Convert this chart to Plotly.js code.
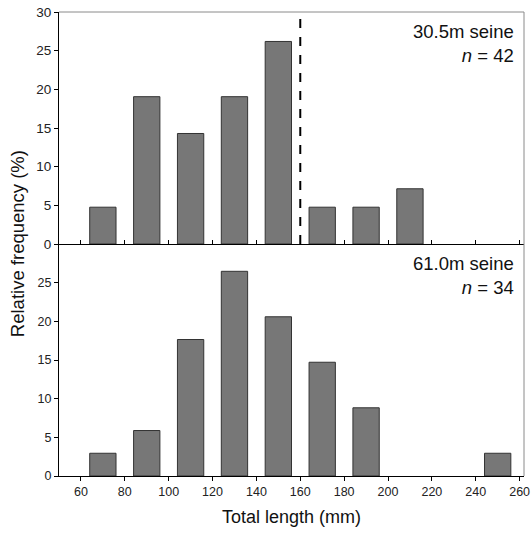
<!DOCTYPE html>
<html><head><meta charset="utf-8">
<script src="https://cdn.plot.ly/plotly-3.0.1.min.js"></script>
<style>html,body{margin:0;padding:0;background:#fff}#chart{width:532px;height:535px}</style>
</head><body><div id="chart"></div>
<script>
// Bin centres (mm)
const binCentersTop = [70, 90, 110, 130, 150, 170, 190, 210];
const freqTop = [4.76, 19.05, 14.29, 19.05, 26.19, 4.76, 4.76, 7.14];   // 30.5m seine, n = 42
const binCentersBottom = [70, 90, 110, 130, 150, 170, 190, 250];
const freqBottom = [2.94, 5.88, 17.65, 26.47, 20.59, 14.71, 8.82, 2.94]; // 61.0m seine, n = 34
const xTicks = [60, 80, 100, 120, 140, 160, 180, 200, 220, 240, 260];
const yTicksTop = [0, 5, 10, 15, 20, 25, 30];
const yTicksBottom = [0, 5, 10, 15, 20, 25];
const cutoff = 160;
const labelTop = ['30.5m seine', '<i>n</i> = 42'];
const labelBottom = ['61.0m seine', '<i>n</i> = 34'];

const FONT = 'Liberation Sans, Arial, sans-serif';
const barStyle = {color: '#777777', line: {color: '#333333', width: 1}};

const data = [
  {type: 'bar', x: binCentersTop, y: freqTop, width: 12, marker: barStyle, xaxis: 'x2', yaxis: 'y2', hoverinfo: 'x+y'},
  {type: 'bar', x: binCentersBottom, y: freqBottom, width: 12, marker: barStyle, xaxis: 'x', yaxis: 'y', hoverinfo: 'x+y'}
];

const axBase = {range: [50, 262], showgrid: false, zeroline: false, showline: true, linecolor: '#000', linewidth: 1,
  tickvals: xTicks, ticklen: 4, tickcolor: '#000', tickfont: {family: FONT, size: 12.5, color: '#222'}};

const layout = {
  width: 532, height: 535,
  margin: {l: 59, r: 8, t: 12, b: 59},
  paper_bgcolor: '#fff', plot_bgcolor: '#fff',
  showlegend: false,
  bargap: 0,
  xaxis: Object.assign({}, axBase, {anchor: 'y', ticks: 'outside',
    title: {text: 'Total length (mm)', font: {family: FONT, size: 18, color: '#111'}, standoff: 12}}),
  xaxis2: Object.assign({}, axBase, {anchor: 'y2', ticks: 'inside', showticklabels: false, matches: 'x'}),
  yaxis: {domain: [0, 0.5], range: [0, 30], tickvals: yTicksBottom, ticks: 'outside', ticklen: 4, tickcolor: '#000',
    showgrid: false, zeroline: false, showline: true, linecolor: '#000', linewidth: 1,
    tickfont: {family: FONT, size: 12.5, color: '#222'}, anchor: 'x'},
  yaxis2: {domain: [0.5, 1], range: [0, 30], tickvals: yTicksTop, ticks: 'outside', ticklen: 4, tickcolor: '#000',
    showgrid: false, zeroline: false, showline: true, linecolor: '#000', linewidth: 1,
    tickfont: {family: FONT, size: 13.5, color: '#222'}, anchor: 'x2'},
  shapes: [
    {type: 'line', xref: 'x2', yref: 'y2', x0: cutoff, x1: cutoff, y0: 0, y1: 30,
      line: {color: '#000', width: 2, dash: 'dash'}},
    {type: 'line', xref: 'paper', yref: 'paper', x0: 0, x1: 1, y0: 1, y1: 1, line: {color: '#8a8a8a', width: 1}},
    {type: 'line', xref: 'paper', yref: 'paper', x0: 1, x1: 1, y0: 0, y1: 1, line: {color: '#8a8a8a', width: 1}}
  ],
  annotations: [
    {xref: 'paper', yref: 'paper', x: 0.982, y: 0.985, xanchor: 'right', yanchor: 'top', align: 'right', showarrow: false,
      text: labelTop.join('<br>'), font: {family: FONT, size: 18.5, color: '#111'}},
    {xref: 'paper', yref: 'paper', x: 0.982, y: 0.485, xanchor: 'right', yanchor: 'top', align: 'right', showarrow: false,
      text: labelBottom.join('<br>'), font: {family: FONT, size: 18.5, color: '#111'}},
    {xref: 'paper', yref: 'paper', x: -0.09, y: 0.5, xanchor: 'center', yanchor: 'middle', textangle: -90, showarrow: false,
      text: 'Relative frequency (%)', font: {family: FONT, size: 18.5, color: '#111'}}
  ]
};

Plotly.newPlot('chart', data, layout, {displayModeBar: false, staticPlot: true});
</script></body></html>
